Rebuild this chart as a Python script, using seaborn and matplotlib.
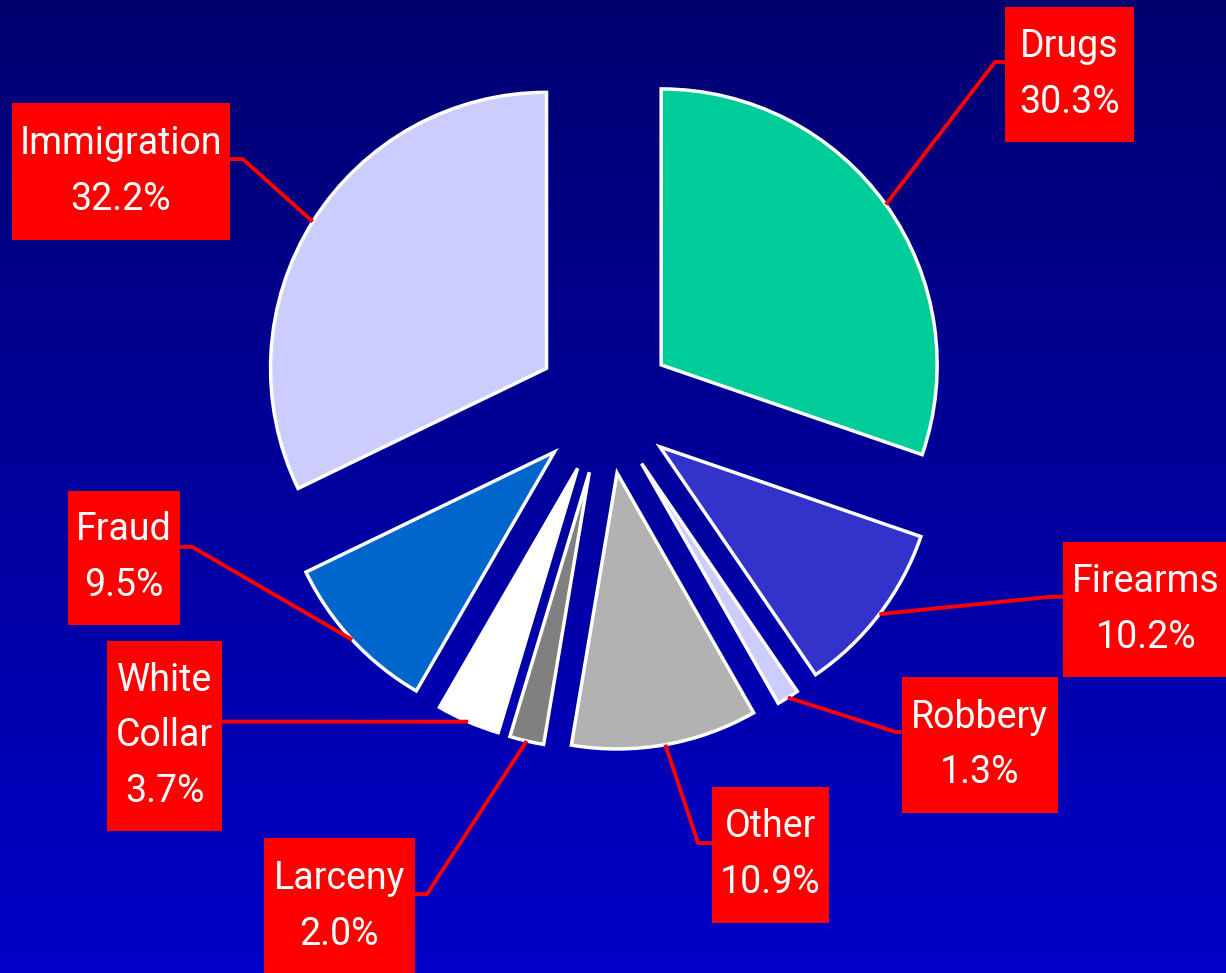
import numpy as np
import matplotlib
matplotlib.use('Agg')
import matplotlib.pyplot as plt
import matplotlib.patches as mpatches
from matplotlib.colors import LinearSegmentedColormap
import seaborn as sns

# data
kategori = ['Drugs', 'Firearms', 'Robbery', 'Other', 'Larceny', 'White\nCollar', 'Fraud', 'Immigration']
persen = [30.3, 10.2, 1.3, 10.9, 2.0, 3.7, 9.5, 32.2]
warna = ['#00CC99', '#3333CC', '#CCCCFF', '#B2B2B2', '#808080', '#FFFFFF', '#0066CC', '#CCCCFF']

# posisi kotak label (pusat x, pusat y, lebar, tinggi) dalam satuan radius pie
kotak = [(1.683, 1.198, 0.467, 0.489),
         (1.960, -0.741, 0.598, 0.489),
         (1.357, -1.232, 0.565, 0.493),
         (0.600, -1.629, 0.424, 0.493),
         (-0.962, -1.817, 0.547, 0.496),
         (-1.596, -1.199, 0.417, 0.688),
         (-1.743, -0.554, 0.406, 0.486),
         (-1.754, 0.846, 0.790, 0.496)]
# titik siku garis penunjuk (x, y)
siku = [(1.413, 1.243), (1.613, -0.695), (1.054, -1.185), (0.337, -1.587),
        (-0.645, -1.772), (-1.388, -1.147), (-1.496, -0.514), (-1.312, 0.891)]

ledak = 0.25

sns.set_theme(style='white')
plt.rcParams['font.family'] = ['Roboto', 'DejaVu Sans']

fig = plt.figure(figsize=(12.26, 9.73), dpi=100)
ax = fig.add_axes([0, 0, 1, 1])
x0, x1 = -605 / 276, (1226 - 605) / 276
y0, y1 = -(973 - 405) / 276, 405 / 276

# latar gradasi biru
grad = LinearSegmentedColormap.from_list('bg', ['#000070', '#0000C8'])
ax.imshow(np.linspace(0, 1, 256).reshape(-1, 1), extent=[x0, x1, y0, y1],
          cmap=grad, aspect='auto', origin='upper', zorder=0)

wedges, _ = ax.pie(persen, colors=warna, startangle=90, counterclock=False,
                   explode=[ledak] * len(persen), radius=1,
                   wedgeprops=dict(edgecolor='white', linewidth=2.5, zorder=2))

for w, nama, p, (bx, by, bw, bh), (sx, sy) in zip(wedges, kategori, persen, kotak, siku):
    sudut = np.deg2rad((w.theta1 + w.theta2) / 2)
    ujung = (1 + ledak) * np.array([np.cos(sudut), np.sin(sudut)])
    # sisi kotak terdekat
    tepi = bx - bw / 2 if sx < bx else bx + bw / 2
    ax.plot([ujung[0], sx, tepi], [ujung[1], sy, sy], color='#FF0000', lw=2.8,
            solid_capstyle='butt', zorder=3)
    ax.add_patch(mpatches.Rectangle((bx - bw / 2, by - bh / 2), bw, bh,
                                    facecolor='#FF0000', edgecolor='none', zorder=4))
    ax.text(bx, by, f'{nama}\n{p:.1f}%', ha='center', va='center', color='white',
            fontsize=27, linespacing=1.65, zorder=5)

ax.set_xlim(x0, x1)
ax.set_ylim(y0, y1)
ax.set_aspect('equal')
ax.axis('off')
fig.savefig('out.png', dpi=100)
